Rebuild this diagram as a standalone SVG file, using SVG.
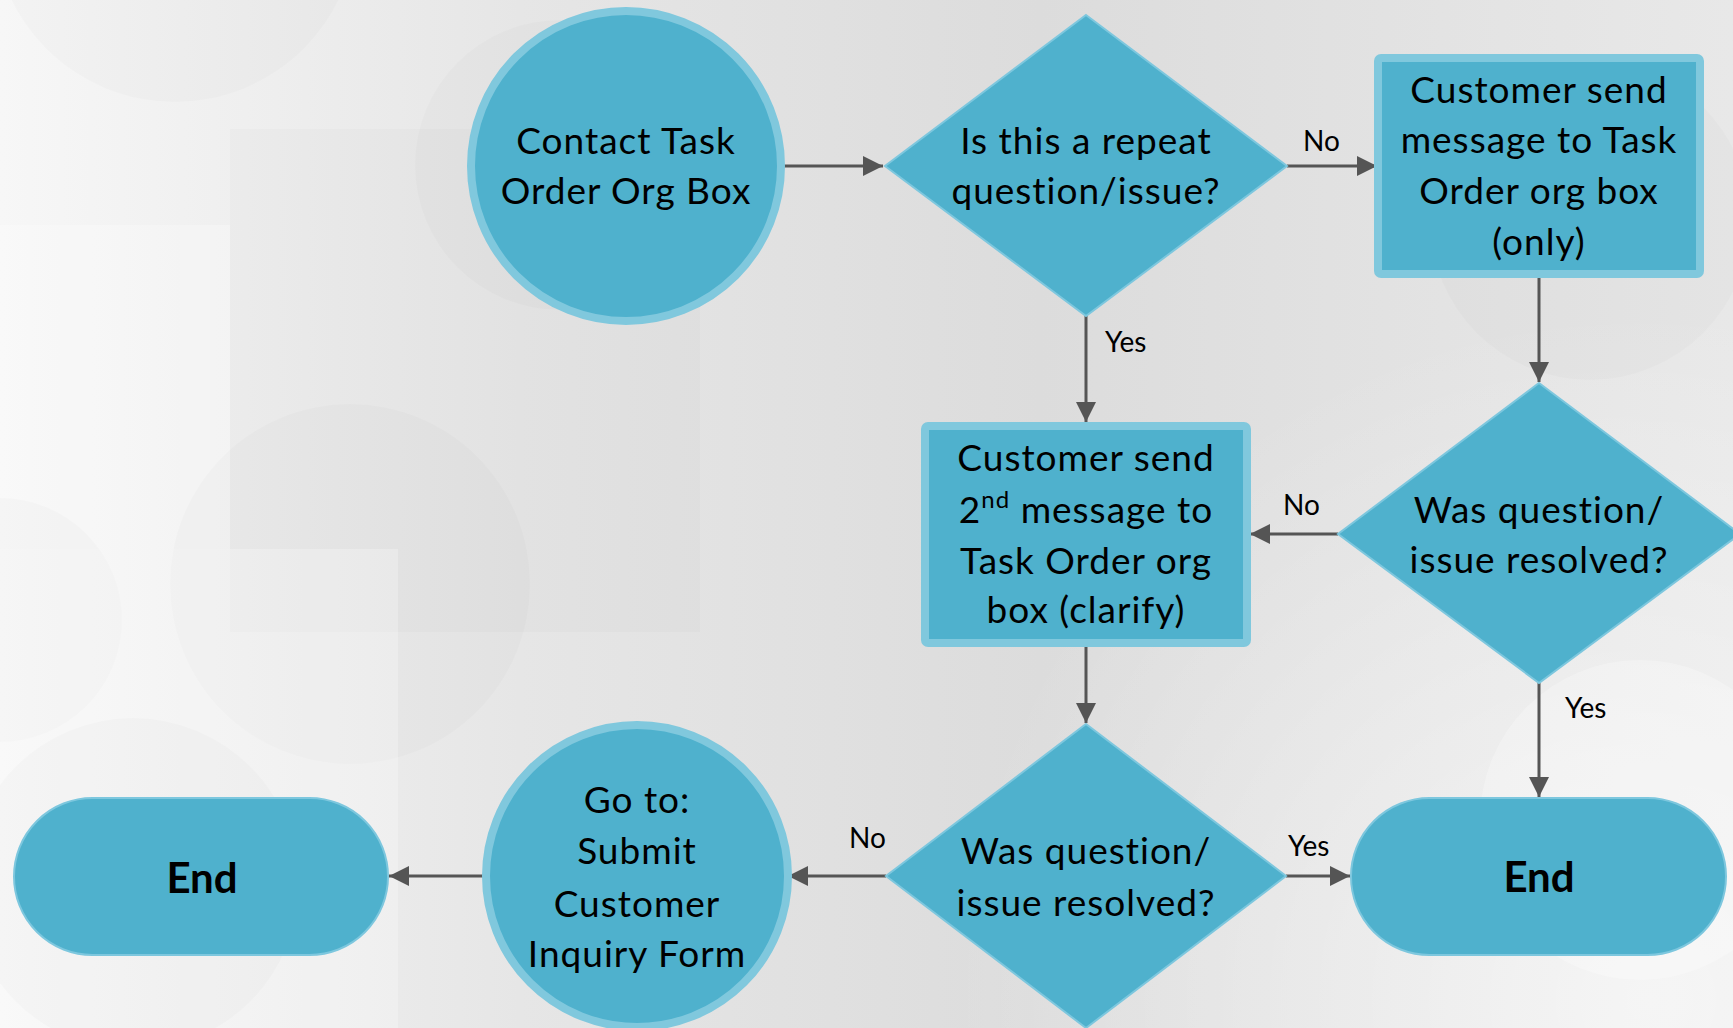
<svg xmlns="http://www.w3.org/2000/svg" width="1733" height="1028" viewBox="0 0 1733 1028">
  <defs>
    <linearGradient id="bg" x1="0" y1="0" x2="1" y2="0">
      <stop offset="0" stop-color="#F7F7F7"/>
      <stop offset="0.3" stop-color="#E6E6E6"/>
      <stop offset="0.6" stop-color="#DCDCDC"/>
      <stop offset="1" stop-color="#E8E8E8"/>
    </linearGradient>
    <radialGradient id="glow" cx="1650" cy="1000" r="700" gradientUnits="userSpaceOnUse">
      <stop offset="0" stop-color="#FFFFFF" stop-opacity="0.6"/>
      <stop offset="1" stop-color="#FFFFFF" stop-opacity="0"/>
    </radialGradient>
    <marker id="arrow" markerUnits="userSpaceOnUse" markerWidth="20" markerHeight="20" refX="20" refY="10" orient="auto">
      <path d="M0,0 L20,10 L0,20 Z" fill="#555555"/>
    </marker>
    <style>
      .node { fill: #4FB1CD; }
      .ring { stroke: #80C8DD; stroke-width: 8; }
      .edge { stroke: #7DC7DE; stroke-width: 2; }
      .t { font-family: Lato, "Liberation Sans", sans-serif; font-size: 37px; letter-spacing: 1px; fill: #000000; text-anchor: middle; }
      .end { font-family: Lato, "Liberation Sans", sans-serif; font-size: 42px; font-weight: bold; fill: #000000; text-anchor: middle; }
      .lbl { font-family: Lato, "Liberation Sans", sans-serif; font-size: 28px; fill: #000000; }
      .conn line { stroke: #555555; stroke-width: 3; marker-end: url(#arrow); }
      .deco { fill: #000000; opacity: 0.014; }
      .lite { fill: #FFFFFF; opacity: 0.25; }
    </style>
  </defs>

  <!-- backdrop -->
  <rect x="0" y="0" width="1733" height="1028" fill="url(#bg)"/>
  <rect x="0" y="0" width="1733" height="1028" fill="url(#glow)"/>
  <g id="backdrop-shapes">
    <circle class="deco" cx="175" cy="-80" r="182"/>
    <rect class="deco" x="230" y="129" width="470" height="503"/>
    <rect class="lite" x="0" y="225" width="230" height="324"/>
    <circle class="deco" cx="350" cy="584" r="180"/>
    <circle class="deco" cx="560" cy="165" r="145"/>
    <circle class="deco" cx="0" cy="620" r="122"/>
    <rect class="lite" x="0" y="549" width="398" height="479"/>
    <circle class="deco" cx="133" cy="884" r="166"/>
    <circle class="deco" cx="1590" cy="220" r="160"/>
    <circle class="lite" cx="1640" cy="820" r="160"/>
  </g>

  <!-- connectors -->
  <g id="connectors" class="conn">
    <line x1="780" y1="166" x2="883" y2="166"/>
    <line x1="1287" y1="166" x2="1377" y2="166"/>
    <line x1="1539" y1="273" x2="1539" y2="382"/>
    <line x1="1086" y1="316" x2="1086" y2="422"/>
    <line x1="1338" y1="534" x2="1250" y2="534"/>
    <line x1="1086" y1="647" x2="1086" y2="723"/>
    <line x1="1539" y1="683" x2="1539" y2="797"/>
    <line x1="1286" y1="876" x2="1350" y2="876"/>
    <line x1="886" y1="876" x2="788" y2="876"/>
    <line x1="487" y1="876" x2="389" y2="876"/>
  </g>

  <!-- connector labels -->
  <g id="labels">
    <text class="lbl" x="1303" y="151">No</text>
    <text class="lbl" x="1105" y="352">Yes</text>
    <text class="lbl" x="1283" y="515">No</text>
    <text class="lbl" x="1565" y="718">Yes</text>
    <text class="lbl" x="849" y="848">No</text>
    <text class="lbl" x="1288" y="856">Yes</text>
  </g>

  <g id="contact">
    <circle class="node ring" cx="626" cy="166" r="155"/>
    <text class="t" x="626" y="154">Contact Task</text>
    <text class="t" x="626" y="204">Order Org Box</text>
  </g>

  <g id="repeat-question">
    <polygon class="node edge" points="1086,15 1287,166 1086,316 885,166"/>
    <text class="t" x="1086" y="154">Is this a repeat</text>
    <text class="t" x="1086" y="204">question/issue?</text>
  </g>

  <g id="send-message">
    <rect class="node ring" x="1378" y="58" width="322" height="216" rx="3"/>
    <text class="t" x="1539" y="103">Customer send</text>
    <text class="t" x="1539" y="153">message to Task</text>
    <text class="t" x="1539" y="204">Order org box</text>
    <text class="t" x="1539" y="255">(only)</text>
  </g>

  <g id="resolved-first">
    <polygon class="node edge" points="1539,383 1740,534 1539,683 1338,534"/>
    <text class="t" x="1539" y="523">Was question/</text>
    <text class="t" x="1539" y="573">issue resolved?</text>
  </g>

  <g id="send-second">
    <rect class="node ring" x="925" y="426" width="322" height="217" rx="3"/>
    <text class="t" x="1086" y="471">Customer send</text>
    <text class="t" x="1086" y="523">2<tspan font-size="24" dy="-15">nd</tspan><tspan dy="15"> message to</tspan></text>
    <text class="t" x="1086" y="574">Task Order org</text>
    <text class="t" x="1086" y="623">box (clarify)</text>
  </g>

  <g id="resolved-second">
    <polygon class="node edge" points="1086,724 1286,876 1086,1028 886,876"/>
    <text class="t" x="1086" y="864">Was question/</text>
    <text class="t" x="1086" y="916">issue resolved?</text>
  </g>

  <g id="inquiry-form">
    <circle class="node ring" cx="637" cy="876" r="151"/>
    <text class="t" x="637" y="813">Go to:</text>
    <text class="t" x="637" y="864">Submit</text>
    <text class="t" x="637" y="917">Customer</text>
    <text class="t" x="637" y="967">Inquiry Form</text>
  </g>

  <g id="end-left">
    <rect class="node edge" x="14" y="798" width="374" height="157" rx="78.5"/>
    <text class="end" x="202" y="893">End</text>
  </g>

  <g id="end-right">
    <rect class="node edge" x="1351" y="798" width="375" height="157" rx="78.5"/>
    <text class="end" x="1539" y="892">End</text>
  </g>
</svg>
